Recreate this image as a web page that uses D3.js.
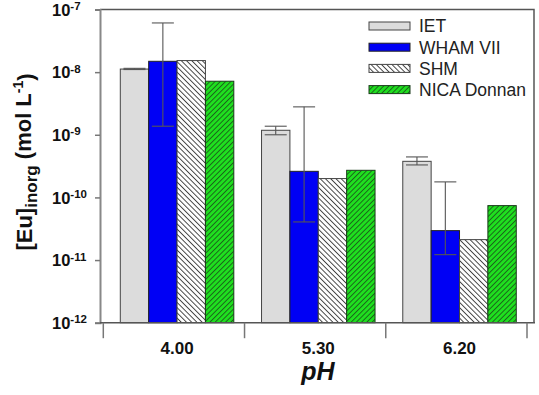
<!DOCTYPE html>
<html>
<head>
<meta charset="utf-8">
<script src="https://cdn.jsdelivr.net/npm/d3@7"></script>
<style>
  body { margin: 0; background: #fff; }
  text { font-family: Arial, "Liberation Sans", sans-serif; }
</style>
</head>
<body>
<svg id="chart"></svg>
<script>
// pH groups and the four model series (mol/L)
const phLabels = ['4.00', '5.30', '6.20'];
const seriesNames = ['IET', 'WHAM VII', 'SHM', 'NICA Donnan'];
const ietValues = [1.12e-8, 1.18e-9, 3.77e-10];
const whamValues = [1.49e-8, 2.61e-10, 2.95e-11];
const shmValues = [1.53e-8, 2.0e-10, 2.12e-11];
const nicaValues = [7.16e-9, 2.71e-10, 7.4e-11];
// error bar ends (upper / lower) for IET and WHAM VII
const ietErrHigh = [1.15e-8, 1.37e-9, 4.43e-10];
const ietErrLow = [1.10e-8, 1.0e-9, 3.3e-10];
const whamErrHigh = [6.1e-8, 2.79e-9, 1.77e-10];
const whamErrLow = [1.37e-9, 4.06e-11, 1.22e-11];
const yTickExps = [-7, -8, -9, -10, -11, -12];

const W = 539, H = 395;
const margin = {top: 9.5, right: 5, bottom: 72.3, left: 100};
const plotW = W - margin.left - margin.right;
const plotH = H - margin.top - margin.bottom;

const svg = d3.select('#chart').attr('width', W).attr('height', H);

const defs = svg.append('defs');
function hatch(id, bg, angle, color) {
  const p = defs.append('pattern')
    .attr('id', id)
    .attr('patternUnits', 'userSpaceOnUse')
    .attr('width', 3.7).attr('height', 3.7)
    .attr('patternTransform', `rotate(${angle})`);
  p.append('rect').attr('width', 3.7).attr('height', 3.7).attr('fill', bg);
  p.append('line')
    .attr('x1', 0.5).attr('y1', 0).attr('x2', 0.5).attr('y2', 3.7)
    .attr('stroke', color).attr('stroke-width', 0.9);
}
hatch('shm-hatch', '#ffffff', -45, '#333');
hatch('nica-hatch', '#1fe01f', 45, '#1a5a1a');

const styles = [
  {fill: '#dcdcdc', stroke: '#444'},
  {fill: '#0000f5', stroke: '#222'},
  {fill: 'url(#shm-hatch)', stroke: '#444'},
  {fill: 'url(#nica-hatch)', stroke: '#1a3a1a'}
];

const series = [ietValues, whamValues, shmValues, nicaValues];
const data = phLabels.map((ph, i) => ({
  ph,
  values: series.map((s, k) => ({key: k, value: s[i]}))
}));

const chart = svg.append('g')
  .attr('transform', `translate(${margin.left},${margin.top})`);

const x = d3.scaleBand().domain(phLabels).range([3.3, 427]).padding(0);
const xInner = d3.scaleBand().domain(d3.range(4)).range([17, 130.5]);
const y = d3.scaleLog().domain([1e-12, 1e-7]).range([plotH, 0]);

// bars
const groups = chart.selectAll('.grp').data(data).join('g')
  .attr('class', 'grp')
  .attr('transform', d => `translate(${x(d.ph)},0)`);

groups.selectAll('rect').data(d => d.values).join('rect')
  .attr('x', d => xInner(d.key))
  .attr('y', d => y(d.value))
  .attr('width', xInner.bandwidth())
  .attr('height', d => plotH - y(d.value))
  .attr('fill', d => styles[d.key].fill)
  .attr('stroke', d => styles[d.key].stroke)
  .attr('stroke-width', 1);

// error bars
const errSets = [
  {key: 0, hi: ietErrHigh, lo: ietErrLow},
  {key: 1, hi: whamErrHigh, lo: whamErrLow}
];
errSets.forEach(es => {
  phLabels.forEach((ph, i) => {
    const cx = x(ph) + xInner(es.key) + xInner.bandwidth() / 2;
    const g = chart.append('g').attr('stroke', '#555').attr('stroke-width', 1.1);
    g.append('line').attr('x1', cx).attr('x2', cx)
      .attr('y1', y(es.hi[i])).attr('y2', y(es.lo[i]));
    [es.hi[i], es.lo[i]].forEach(v => {
      g.append('line').attr('x1', cx - 11).attr('x2', cx + 11)
        .attr('y1', y(v)).attr('y2', y(v));
    });
  });
});

// frame: top and right
chart.append('path')
  .attr('d', `M0,0H${plotW}V${plotH}`)
  .attr('fill', 'none').attr('stroke', '#555').attr('stroke-width', 1.5);

// y axis
const yAxis = d3.axisLeft(y)
  .tickValues(yTickExps.map(e => Math.pow(10, e)))
  .tickSize(5).tickFormat('');
const yAxisG = chart.append('g').call(yAxis);
yAxisG.select('.domain').attr('stroke', '#888').attr('stroke-width', 2);
yAxisG.selectAll('.tick line').attr('stroke', '#777').attr('stroke-width', 1.5);
yAxisG.selectAll('.tick').append('text')
  .attr('x', -48).attr('dy', '0.35em')
  .attr('text-anchor', 'start')
  .attr('fill', '#111')
  .style('font-size', '16.5px').style('font-weight', 'bold')
  .each(function(d) {
    const t = d3.select(this);
    t.append('tspan').text('10');
    t.append('tspan').attr('dy', '-0.5em').style('font-size', '11.5px')
      .text(String(Math.round(Math.log10(d))));
  });

// x axis (ticks at band edges)
const xEdges = phLabels.map(p => x(p)).concat([x(phLabels[2]) + x.bandwidth()]);
chart.append('line')
  .attr('x1', 0).attr('x2', plotW + 1).attr('y1', plotH).attr('y2', plotH)
  .attr('stroke', '#555').attr('stroke-width', 1.5);
chart.selectAll('.xtick').data(xEdges).join('line')
  .attr('class', 'xtick')
  .attr('x1', d => d).attr('x2', d => d)
  .attr('y1', plotH).attr('y2', plotH + 15.5)
  .attr('stroke', '#777').attr('stroke-width', 1.5);
chart.selectAll('.xlab').data(phLabels).join('text')
  .attr('class', 'xlab')
  .attr('x', d => x(d) + xInner(0) + (xInner.range()[1] - xInner.range()[0]) / 2)
  .attr('y', plotH + 31)
  .attr('text-anchor', 'middle')
  .attr('fill', '#111')
  .style('font-size', '17px').style('font-weight', 'bold')
  .text(d => d);

// axis titles
svg.append('text')
  .attr('x', 318).attr('y', 380)
  .attr('text-anchor', 'middle')
  .attr('fill', '#111')
  .style('font-size', '25px').style('font-weight', 'bold').style('font-style', 'italic')
  .text('pH');

const yt = svg.append('text')
  .attr('transform', 'translate(32,162) rotate(-90)')
  .attr('text-anchor', 'middle')
  .attr('fill', '#111')
  .style('font-size', '22px').style('font-weight', 'bold');
yt.append('tspan').text('[Eu]');
yt.append('tspan').attr('dy', '0.3em').style('font-size', '17px').text('inorg');
yt.append('tspan').attr('dy', '-0.3em').text(' (mol L');
yt.append('tspan').attr('dy', '-0.55em').style('font-size', '14px').text('-1');
yt.append('tspan').attr('dy', '0.45em').text(')');

// legend
const legend = svg.append('g').attr('transform', 'translate(369,26)');
const rows = legend.selectAll('g').data(seriesNames).join('g')
  .attr('transform', (d, i) => `translate(0,${i * 21.2})`);
rows.append('rect')
  .attr('x', 0).attr('y', -4).attr('width', 41).attr('height', 8)
  .attr('fill', (d, i) => styles[i].fill)
  .attr('stroke', (d, i) => styles[i].stroke).attr('stroke-width', 1);
rows.append('text')
  .attr('x', 50).attr('dy', '0.36em')
  .attr('fill', '#222')
  .style('font-size', '17.5px')
  .text(d => d);
</script>
</body>
</html>
